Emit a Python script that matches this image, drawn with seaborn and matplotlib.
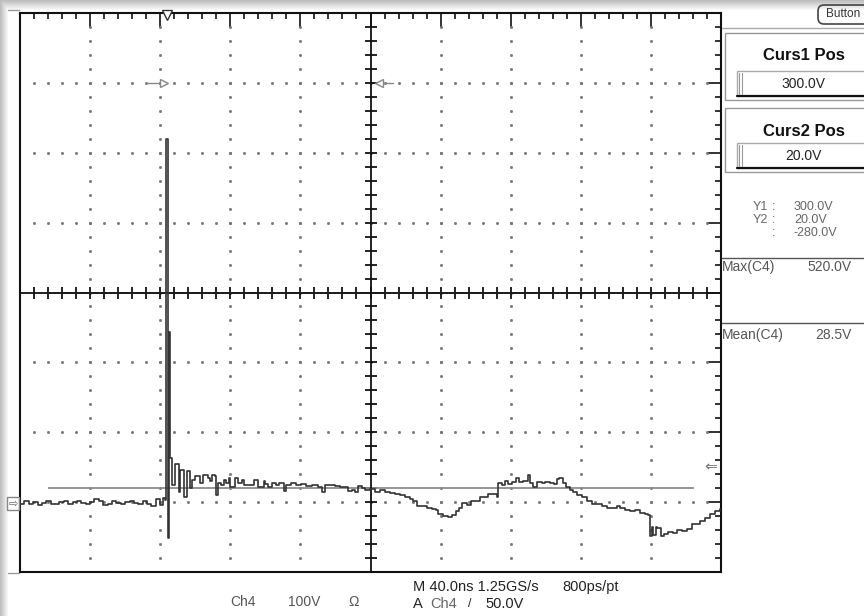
import numpy as np
import pandas as pd
import seaborn as sns
import matplotlib.pyplot as plt
from matplotlib.patches import Rectangle, FancyBboxPatch
from matplotlib.lines import Line2D
from matplotlib.ticker import MultipleLocator
from matplotlib.transforms import Affine2D

# scope settings
ns_per_div = 40.0
volts_per_div = 100.0
cursor1_v = 300.0
cursor2_v = 20.0
trigger_v = 50.0
trigger_t = 84.0

# Ch4 trace, time in ns from the left edge of the screen, volts
pre_t = [0, 2.5, 5, 7.5, 10, 12.5, 15, 17.5, 20, 22.5, 25, 27.5, 30, 32.5, 35, 37.5, 40,
         42.5, 45, 47.5, 50, 52.5, 55, 57.5, 60, 62.5, 65, 67.5, 70, 72.5, 75, 77.5, 80, 81.5]
pre_v = [-2, 1, -3, 0, -4, -1, 2, -2, -3, 0, 1, -2, 0, 2, -1, -3, 0,
         5, 1, -4, -2, 2, -1, -3, 0, 1, -1, -3, 2, -2, -5, 4, -4, 6]

pulse_t = [82.7, 83.3, 84.0, 84.6, 85.2, 85.8]
pulse_v = [3, 519, 519, -51, 243, 63]

ring_t = [86.9, 88.4, 90.3, 90.7, 91.5, 92.6, 93.4, 94.9, 95.3, 96.4, 96.8, 98.3, 99.9,
          101.8, 102.7, 104.6, 107.1, 108.4, 109.7, 111.3, 111.8, 112.8, 114.7, 116.2,
          117.7, 119.1, 120.0, 122.7, 124.6, 126.9, 128.0, 132.2, 133.3, 135.2, 136.0,
          138.3, 139.0]
ring_v = [25, 54, 54, 15, 46, 46, 7, 7, 44, 44, 20, 32, 38, 38, 27, 39, 35, 30, 39, 38,
          10, 27, 25, 32, 27, 35, 22, 34, 27, 31, 24, 24, 31, 31, 21, 21, 30]

mid_t = [139.8, 141.5, 143.8, 146.1, 147.8, 150.6, 151.8, 154.6, 157.5, 160.3, 163.2,
         166.6, 170.0, 172.3, 174.0, 176.9, 179.7, 182.6, 185.4, 187.2, 189.4, 191.2,
         192.9, 195.1]
mid_v = [26, 22, 27, 24, 28, 16, 25, 27, 25, 26, 23, 24, 22, 15, 24, 25, 23, 22, 21, 16,
         17, 15, 23, 20]

sag_t = [196.9, 199.7, 202.6, 205.4, 208.3, 211.1, 214.0, 216.8, 219.7, 222.5, 224.4,
         226.4, 229.2, 232.1, 234.9, 237.2, 238.7, 241.5, 244.4, 246.7, 248.6, 250.5,
         252.4, 254.9, 257.4, 259.6, 262.5, 264.9, 267.2, 270.1, 272.0, 272.9, 274.8,
         276.7, 278.6, 280.6, 282.8, 284.7, 287.2, 289.7, 291.0, 292.9, 294.8, 297.7]
sag_v = [18, 19, 15, 18, 14, 13, 11, 10, 7, 5, 1, -5, -6, -8, -10, -11, -17, -20, -21, -19,
         -12, -8, -1, -4, 1, 2, 8, 7, 11, 12, 7, 27, 25, 30, 26, 29, 34, 29, 30, 39,
         27, 22, 29, 27]

tail_t = [299.6, 302.4, 304.7, 306.2, 307.7, 309.6, 311.5, 313.8, 315.7, 318.0, 320.5,
          323.4, 326.2, 329.1, 331.9, 334.8, 337.6, 340.5, 342.4, 345.2, 348.1, 350.9,
          353.8, 356.6, 358.5, 359.5, 360.4, 361.4, 362.7, 363.7, 365.6, 367.5, 370.0,
          372.8, 375.1, 377.6, 380.4, 383.3, 385.7, 388.0, 390.9, 393.7, 396.6, 399.4]
tail_v = [29, 27, 26, 33, 35, 27, 22, 17, 15, 10, 7, 1, -3, -2, -6, -9, -8, -5, -9, -11,
          -12, -11, -16, -17, -19, -49, -35, -47, -35, -37, -49, -46, -43, -44, -40, -41,
          -38, -31, -32, -27, -23, -17, -12, -10]

trace = pd.DataFrame({
    "t": pre_t + pulse_t + ring_t + mid_t + sag_t + tail_t,
    "v": pre_v + pulse_v + ring_v + mid_v + sag_v + tail_v,
})

sns.set_style("white")
plt.rcParams["font.family"] = ["Liberation Sans", "DejaVu Sans"]

fig = plt.figure(figsize=(8.64, 6.16), dpi=100)
# reference pixel coordinates, y pointing down
pix = Affine2D().scale(1 / 864, -1 / 616).translate(0, 1) + fig.transFigure

# soft grey shadow along top and left edge
bg = fig.add_axes([0, 0, 1, 1], zorder=-5)
rows = np.arange(616)[:, None]
cols = np.arange(864)[None, :]
shade = np.minimum(0.74 + 0.26 * np.clip(rows / 10, 0, 1),
                   0.74 + 0.26 * np.clip(cols / 8, 0, 1))
bg.imshow(shade, cmap="gray", vmin=0, vmax=1, extent=[0, 1, 0, 1], aspect="auto")
bg.axis("off")

ax = fig.add_axes([20 / 864, 44 / 616, 701 / 864, 559 / 616])
ax.set_xlim(0, 10 * ns_per_div)
ax.set_ylim(-volts_per_div, 7 * volts_per_div)

# graticule frame ticks
ax.xaxis.set_major_locator(MultipleLocator(ns_per_div))
ax.xaxis.set_minor_locator(MultipleLocator(ns_per_div / 5))
ax.yaxis.set_major_locator(MultipleLocator(volts_per_div))
ax.yaxis.set_minor_locator(MultipleLocator(volts_per_div / 5))
ax.tick_params(which="both", direction="in", top=True, right=True, color="#111111",
               labelbottom=False, labelleft=False)
ax.tick_params(which="major", length=10, width=1.2)
ax.tick_params(which="minor", length=4.5, width=1.2)
for sp in ax.spines.values():
    sp.set_color("#111111")
    sp.set_linewidth(1.5)

# dotted grid lines
t_center = 5 * ns_per_div
v_center = 3 * volts_per_div
major_t = [k * ns_per_div for k in range(1, 10) if k != 5]
major_v = [k * volts_per_div for k in range(0, 7) if k != 3]
minor_t = np.arange(1, 50) * ns_per_div / 5
minor_v = -volts_per_div + np.arange(1, 40) * volts_per_div / 5
for t in major_t:
    ax.plot([t] * len(minor_v), minor_v, ls="none", marker="s", ms=1.0, color="#777777")
for v in major_v:
    ax.plot(minor_t, [v] * len(minor_t), ls="none", marker="s", ms=1.0, color="#777777")

# centre cross with its ticks
ax.axhline(v_center, color="#111111", lw=1.3, zorder=3)
ax.axvline(t_center, color="#111111", lw=1.3, zorder=3)
ax.plot(minor_t, [v_center] * len(minor_t), ls="none", marker="|", ms=8.5, mew=1.3, color="#111111")
ax.plot([t_center] * len(minor_v), minor_v, ls="none", marker="_", ms=8.5, mew=1.3, color="#111111")

# cursors
ax.hlines([cursor1_v, cursor2_v], 16, 384.6, color="#8c8c8c", lw=1.3, zorder=2)

sns.lineplot(data=trace, x="t", y="v", estimator=None, drawstyle="steps-post",
             color="#333333", lw=1.2, ax=ax, zorder=4)
ax.set_xlabel("")
ax.set_ylabel("")

# screen markers
ax.plot([trigger_t], [697], marker="v", ms=7, mfc="white", mec="#333333", clip_on=False, zorder=6)
ax.plot([72.5, 80], [600, 600], color="#888888", lw=1)
ax.plot([82], [600], marker=">", ms=6, mfc="white", mec="#888888")
ax.plot([206, 213], [600, 600], color="#888888", lw=1)
ax.plot([205], [600], marker="<", ms=6, mfc="white", mec="#888888")
ax.text(398, trigger_v, "\u21d0", ha="right", va="center", color="#777777", fontsize=11,
        family="DejaVu Sans")

# ground marker on the left
fig.add_artist(Rectangle((7, 497), 12, 13, transform=pix, fill=False, ec="#888888", lw=1))
fig.text(13, 503.5, "\u21e8", transform=pix, ha="center", va="center", fontsize=8,
         color="#666666", family="DejaVu Sans")
for y in (10, 573):
    fig.add_artist(Line2D([8, 19], [y, y], transform=pix, color="#999999", lw=1))

# right hand panel
fig.add_artist(FancyBboxPatch((818, 5), 70, 19, boxstyle="round,pad=0,rounding_size=6",
                              transform=pix, fill=False, ec="#444444", lw=1.2))
fig.text(826, 14, "Button", transform=pix, va="center", fontsize=8.5, color="#333333")
fig.add_artist(Line2D([722, 864], [28, 28], transform=pix, color="#aaaaaa", lw=1))

boxes = [(33, 67, "Curs1 Pos", f"{cursor1_v:.1f}V"), (108, 64, "Curs2 Pos", f"{cursor2_v:.1f}V")]
for top, h, title, val in boxes:
    fig.add_artist(Rectangle((725, top), 145, h, transform=pix, fill=False, ec="#999999", lw=1))
    fig.text(804, top + 23, title, transform=pix, ha="center", va="center", fontsize=12,
             fontweight="bold", color="#111111")
    f_top = top + h - 29
    fig.add_artist(Rectangle((737, f_top), 130, 25, transform=pix, fill=False, ec="#aaaaaa", lw=1))
    fig.add_artist(Line2D([737, 864], [f_top + 25, f_top + 25], transform=pix, color="#111111", lw=1.6))
    for xb in (739, 742):
        fig.add_artist(Line2D([xb, xb], [f_top + 2, f_top + 23], transform=pix, color="#999999", lw=0.8))
    fig.text(803, f_top + 12.5, val, transform=pix, ha="center", va="center", fontsize=10,
             color="#222222")

readings = [("Y1", f"{cursor1_v:.1f}V", 207), ("Y2", f"{cursor2_v:.1f}V", 220),
            ("", f"{cursor2_v - cursor1_v:.1f}V", 233)]
for lab, val, y in readings:
    fig.text(768, y, lab, transform=pix, ha="right", va="center", fontsize=9, color="#666666")
    fig.text(774, y, ":", transform=pix, ha="center", va="center", fontsize=9, color="#666666")
    fig.text(794, y, val, transform=pix, ha="left", va="center", fontsize=9, color="#666666")

fig.add_artist(Line2D([722, 864], [258, 258], transform=pix, color="#555555", lw=1))
fig.add_artist(Line2D([722, 864], [323, 323], transform=pix, color="#555555", lw=1))
fig.text(722, 267, "Max(C4)", transform=pix, va="center", fontsize=10, color="#555555")
fig.text(852, 267, "520.0V", transform=pix, ha="right", va="center", fontsize=10, color="#555555")
fig.text(722, 335, "Mean(C4)", transform=pix, va="center", fontsize=10, color="#555555")
fig.text(852, 335, "28.5V", transform=pix, ha="right", va="center", fontsize=10, color="#555555")

# status line under the screen
fig.text(230, 602, "Ch4", transform=pix, va="center", fontsize=10, color="#555555")
fig.text(288, 602, f"{volts_per_div:.0f}V", transform=pix, va="center", fontsize=10, color="#555555")
fig.text(348, 602, "\u03a9", transform=pix, va="center", fontsize=10, color="#555555")
fig.text(413, 587, f"M {ns_per_div:.1f}ns 1.25GS/s", transform=pix, va="center", fontsize=10.5,
         color="#222222")
fig.text(562, 587, "800ps/pt", transform=pix, va="center", fontsize=10.5, color="#222222")
fig.text(413, 604, "A", transform=pix, va="center", fontsize=10.5, color="#222222")
fig.text(430, 604, "Ch4", transform=pix, va="center", fontsize=10.5, color="#666666")
fig.text(468, 604, "/", transform=pix, va="center", fontsize=9, color="#222222")
fig.text(485, 604, f"{trigger_v:.1f}V", transform=pix, va="center", fontsize=10.5, color="#222222")

fig.savefig("out.png", dpi=100)
